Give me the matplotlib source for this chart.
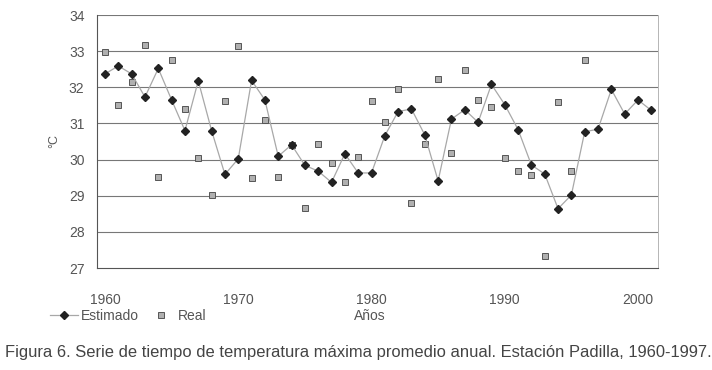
import matplotlib.pyplot as plt

plt.rcParams['font.family'] = ['Liberation Sans', 'DejaVu Sans']

years_est = list(range(1960, 2002))
estimado = [32.37, 32.59, 32.37, 31.73, 32.52, 31.65, 30.80, 32.18, 30.80, 29.59,
            30.02, 32.19, 31.65, 30.09, 30.41, 29.84, 29.68, 29.37, 30.16, 29.63,
            29.63, 30.66, 31.33, 31.40, 30.68, 29.41, 31.12, 31.38, 31.03, 32.08,
            31.52, 30.83, 29.85, 29.60, 28.64, 29.02, 30.77, 30.84, 31.94, 31.26,
            31.65, 31.36]

years_real = list(range(1960, 1997))
real = [32.98, 31.52, 32.14, 33.16, 29.52, 32.75, 31.39, 30.04, 29.03, 31.63,
        33.15, 29.48, 31.09, 29.51, 30.41, 28.65, 30.43, 29.90, 29.37, 30.07,
        31.62, 31.05, 31.95, 28.81, 30.43, 32.22, 30.17, 32.48, 31.65, 31.45,
        30.03, 29.69, 29.56, 27.32, 31.58, 29.67, 32.75]

x_ticks = [1960, 1970, 1980, 1990, 2000]
y_ticks = [27, 28, 29, 30, 31, 32, 33, 34]

txt = '#555555'

fig = plt.figure(figsize=(7.12, 3.70), dpi=100)
ax = fig.add_axes([97 / 712, 1 - 268 / 370, 561 / 712, 253 / 370])

for y in y_ticks[1:]:
    ax.axhline(y, color='#777777', lw=0.8, zorder=1)

ax.plot(years_est, estimado, color='#a8a8a8', lw=0.9, marker='D', markersize=3.6,
        markerfacecolor='#222222', markeredgecolor='#222222', label='Estimado', zorder=3)
ax.plot(years_real, real, ls='none', marker='s', markersize=4.0,
        markerfacecolor='#b0b0b0', markeredgecolor='#555555', markeredgewidth=0.7,
        label='Real', zorder=2)

ax.set_xlim(1959.4, 2001.5)
ax.set_ylim(27, 34)
ax.set_xticks(x_ticks)
ax.set_yticks(y_ticks)
ax.tick_params(length=0, labelsize=10, labelcolor=txt)
ax.tick_params(axis='y', pad=9)
ax.tick_params(axis='x', pad=18)

ax.spines['top'].set_visible(False)
ax.spines['left'].set_color('#555555')
ax.spines['bottom'].set_color('#555555')
ax.spines['right'].set_color('#aaaaaa')
ax.spines['left'].set_linewidth(0.8)
ax.spines['bottom'].set_linewidth(0.8)
ax.spines['right'].set_linewidth(0.6)

ax.set_ylabel('°C', color=txt, fontsize=9, labelpad=6)

ax.legend(loc='center left', bbox_to_anchor=(50 / 712, 1 - 316 / 370),
          bbox_transform=fig.transFigure, ncol=2, frameon=False, fontsize=10,
          borderpad=0, borderaxespad=0,
          handlelength=2.0, handletextpad=0.2, columnspacing=0.6, labelcolor=txt)

fig.text(370 / 712, 1 - 316 / 370, 'Años', color=txt, fontsize=10, ha='center', va='center')
fig.text(5 / 712, 1 - 352 / 370,
         'Figura 6. Serie de tiempo de temperatura máxima promedio anual. Estación Padilla, 1960-1997.',
         color='#444444', fontsize=11.9, ha='left', va='center')

fig.savefig('out.png', dpi=100)
